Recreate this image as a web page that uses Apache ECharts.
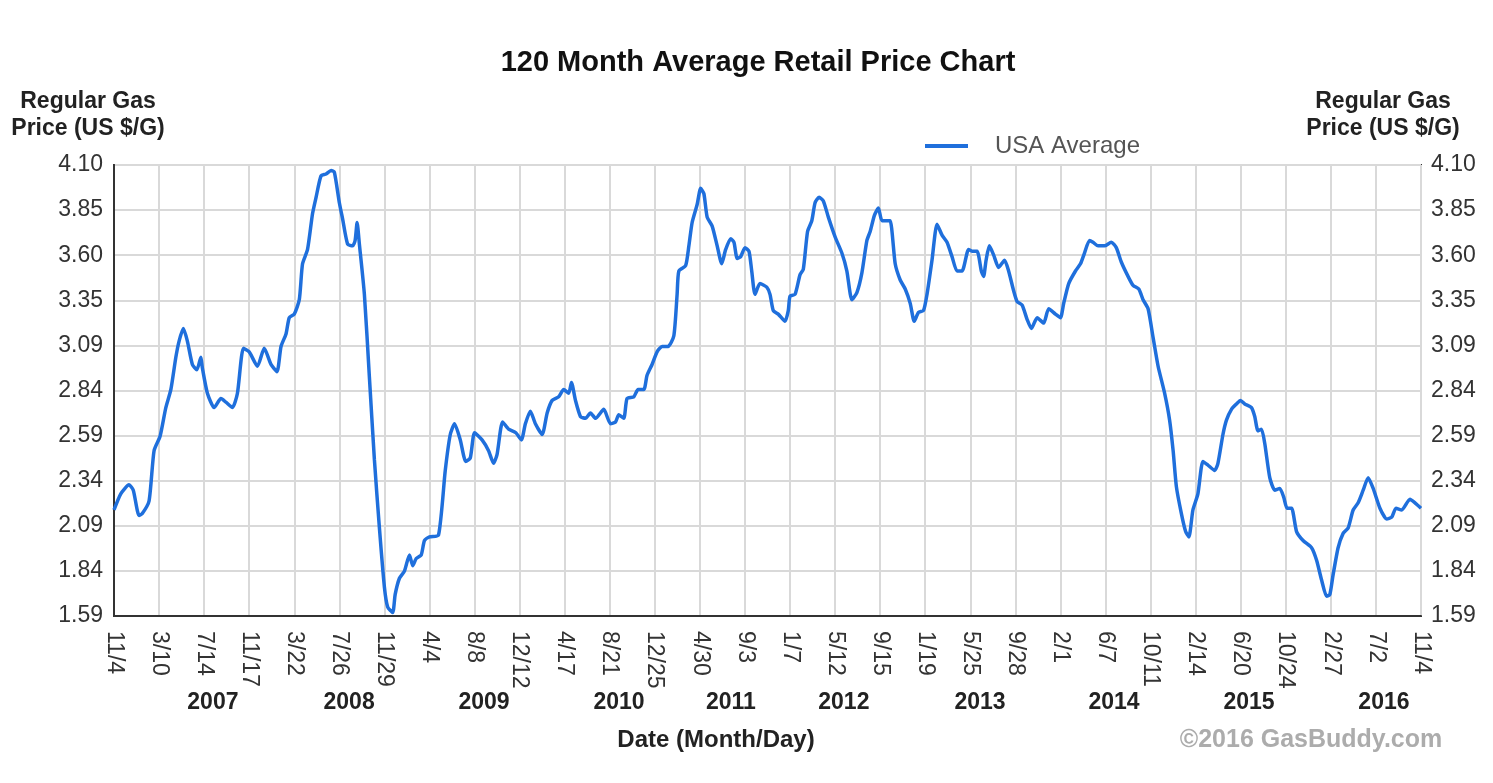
<!DOCTYPE html>
<html>
<head>
<meta charset="utf-8">
<script src="https://cdn.jsdelivr.net/npm/echarts@6/dist/echarts.min.js"></script>
<style>
html,body{margin:0;padding:0;background:#fff;}
#chart{width:1493px;height:783px;}
</style>
</head>
<body>
<div id="chart"></div>
<script>
const FONT = "'Liberation Sans', Arial, sans-serif";

const tickLabels = ['11/4','3/10','7/14','11/17','3/22','7/26','11/29','4/4','8/8','12/12','4/17','8/21','12/25','4/30','9/3','1/7','5/12','9/15','1/19','5/25','9/28','2/1','6/7','10/11','2/14','6/20','10/24','2/27','7/2','11/4'];
const yTickLabels = ['1.59','1.84','2.09','2.34','2.59','2.84','3.09','3.35','3.60','3.85','4.10'];
const yearLabels = ['2007','2008','2009','2010','2011','2012','2013','2014','2015','2016'];
const yearWeeks = [39.5, 93.9, 147.8, 201.7, 246.4, 291.5, 345.9, 399.4, 453.3, 507.2];

// weeks since 11/4/2006
const weeks = [
0,2.7,6.0,7.7,10.0,11.3,14.0,16.0,18.4,20.7,22.7,24.7,26.0,27.7,29.3,31.3,33.1,34.7,35.3,37.3,
40.0,42.7,44.7,47.3,49.3,51.7,54.0,57.3,60.0,62.7,65.1,66.7,68.7,70.0,72.0,74.0,75.3,77.3,79.3,80.7,
82.7,84.7,86.7,88.0,90.0,91.3,93.3,95.3,96.3,97.1,98.0,100.0,102.0,104.0,106.0,108.0,109.3,111.3,112.3,114.0,
116.0,118.0,119.3,120.7,122.7,124.0,126.0,129.6,132.3,134.3,136.0,138.3,140.5,142.3,144.0,147.0,149.6,151.6,153.0,155.2,
157.6,160.5,162.7,164.3,166.3,168.3,171.0,173.0,175.0,177.6,179.6,181.6,182.7,184.3,186.3,188.3,190.3,192.3,195.6,198.3,
200.3,201.6,203.6,204.9,207.6,209.3,211.6,212.9,214.9,216.9,218.9,221.3,223.6,224.9,225.6,228.3,229.6,230.9,232.9,234.3,
235.6,236.9,238.9,240.9,242.7,244.3,246.3,247.6,248.9,250.3,252.0,253.6,254.7,256.0,258.0,260.7,262.0,263.3,265.3,268.0,
269.3,270.0,272.0,274.0,275.3,277.0,278.7,280.0,281.6,283.3,285.3,288.0,290.7,292.7,294.7,296.7,298.7,300.7,302.0,303.7,
305.3,306.7,308.7,310.0,312.0,314.0,316.0,318.0,319.6,321.3,323.3,324.7,326.7,328.7,330.7,332.7,334.7,336.7,338.7,341.3,
342.7,344.7,346.4,347.3,348.3,349.6,351.3,353.3,355.7,357.3,359.3,360.7,362.7,364.7,366.4,368.7,371.3,373.3,376.0,378.0,
379.3,381.3,384.0,386.0,387.6,389.6,391.0,393.0,395.6,398.3,400.3,402.3,405.0,407.0,409.3,411.0,413.0,415.0,417.0,419.6,
421.6,423.0,424.3,426.3,428.0,429.3,430.9,432.9,434.9,436.9,439.6,440.9,442.9,444.3,446.3,448.3,449.9,451.6,454.3,455.6,
456.9,458.3,459.6,461.6,463.6,465.6,467.2,468.5,470.3,472.3,474.9,478.3,480.3,482.3,484.3,485.6,486.9,488.9,490.9,492.9,
494.9,496.9,498.9,500.9,502.9,505.6,508.3,510.3,512.0,514.3,517.6,519.6,522.0
];
const prices = [
2.18,2.27,2.32,2.29,2.15,2.16,2.23,2.51,2.59,2.75,2.85,3.03,3.12,3.19,3.12,2.99,2.96,3.03,2.97,2.83,
2.75,2.80,2.78,2.75,2.83,3.08,3.06,2.98,3.08,2.99,2.95,3.09,3.16,3.25,3.27,3.35,3.55,3.63,3.83,3.92,
4.04,4.05,4.07,4.06,3.89,3.80,3.66,3.65,3.68,3.78,3.66,3.38,2.92,2.46,2.08,1.75,1.64,1.61,1.71,1.80,
1.84,1.93,1.87,1.91,1.93,2.01,2.03,2.04,2.40,2.60,2.66,2.57,2.45,2.47,2.61,2.57,2.51,2.44,2.49,2.67,
2.63,2.61,2.57,2.66,2.73,2.66,2.60,2.72,2.79,2.81,2.85,2.83,2.89,2.79,2.70,2.69,2.72,2.69,2.74,2.66,
2.67,2.71,2.69,2.80,2.81,2.85,2.85,2.93,2.99,3.06,3.09,3.09,3.15,3.38,3.51,3.54,3.65,3.78,3.88,3.97,
3.94,3.81,3.76,3.65,3.55,3.63,3.69,3.67,3.58,3.59,3.64,3.62,3.51,3.38,3.44,3.42,3.38,3.29,3.27,3.23,
3.29,3.37,3.38,3.49,3.52,3.73,3.79,3.89,3.92,3.90,3.81,3.70,3.61,3.51,3.35,3.39,3.50,3.68,3.73,3.82,
3.86,3.79,3.79,3.79,3.55,3.46,3.41,3.33,3.23,3.28,3.29,3.38,3.57,3.77,3.71,3.67,3.59,3.51,3.51,3.63,
3.62,3.62,3.51,3.48,3.57,3.65,3.60,3.53,3.57,3.51,3.40,3.34,3.32,3.24,3.19,3.25,3.22,3.30,3.27,3.25,
3.33,3.44,3.51,3.55,3.61,3.68,3.67,3.65,3.65,3.67,3.64,3.56,3.48,3.43,3.41,3.35,3.30,3.14,2.98,2.83,
2.68,2.51,2.31,2.16,2.06,2.03,2.18,2.27,2.45,2.43,2.40,2.44,2.60,2.68,2.74,2.77,2.79,2.77,2.75,2.70,
2.62,2.63,2.55,2.36,2.29,2.30,2.25,2.19,2.19,2.06,2.01,1.97,1.90,1.79,1.70,1.71,1.82,1.97,2.05,2.08,
2.18,2.22,2.29,2.36,2.30,2.19,2.13,2.14,2.19,2.18,2.24,2.22,2.19
];

const Y_MIN = 1.59, Y_MAX = 4.10, Y_STEP = 0.251;
const X_MAX = 522, X_STEP = 18;

function yearFor(v){
  let best = 0, bd = Infinity;
  yearWeeks.forEach((w,i)=>{ const d = Math.abs(w - v); if (d < bd){ bd = d; best = i; } });
  return yearLabels[best];
}

const chart = echarts.init(document.getElementById('chart'), null, {renderer:'canvas'});
const yLabelFmt = v => yTickLabels[Math.round((v - Y_MIN) / Y_STEP)] || '';

chart.setOption({
  animation: false,
  backgroundColor: '#fff',
  textStyle: { fontFamily: FONT },
  title: [
    { text: '120 Month Average Retail Price Chart', left: 758, top: 48, textAlign: 'center', padding: 0,
      textStyle: { fontSize: 29, fontWeight: 'bold', color: '#111', fontFamily: FONT } },
    { text: 'Regular Gas\nPrice (US $/G)', left: 88, top: 88, textAlign: 'center', padding: 0,
      textStyle: { fontSize: 23, fontWeight: 'bold', color: '#222', lineHeight: 27, fontFamily: FONT } },
    { text: 'Regular Gas\nPrice (US $/G)', left: 1383, top: 88, textAlign: 'center', padding: 0,
      textStyle: { fontSize: 23, fontWeight: 'bold', color: '#222', lineHeight: 27, fontFamily: FONT } },
    { text: 'Date (Month/Day)', left: 716, top: 728, textAlign: 'center', padding: 0,
      textStyle: { fontSize: 24, fontWeight: 'bold', color: '#222', fontFamily: FONT } },
    { text: '\u00a92016 GasBuddy.com', left: 1311, top: 728, textAlign: 'center', padding: 0,
      textStyle: { fontSize: 25, fontWeight: 'bold', color: '#acacac', fontFamily: FONT } }
  ],
  legend: {
    left: 925, top: 134, icon: 'rect', itemWidth: 43, itemHeight: 4, padding: 0,
    textStyle: { fontSize: 24, color: '#555', padding: [0, 0, 0, 22], fontFamily: FONT },
    data: ['USA Average']
  },
  grid: { left: 114, right: 72, top: 165, bottom: 167, show: true, borderColor: '#333', borderWidth: 2, containLabel: false },
  xAxis: [
    {
      type: 'value', min: 0, max: X_MAX, interval: X_STEP, position: 'bottom',
      axisLine: { show: true, onZero: false, lineStyle: { color: '#333', width: 2 } },
      axisTick: { show: false },
      splitLine: { show: true, lineStyle: { color: '#d9d9d9', width: 2 } },
      axisLabel: { rotate: -90, margin: 15, fontSize: 23, color: '#333', fontFamily: FONT,
        showMinLabel: true, showMaxLabel: true,
        formatter: v => tickLabels[Math.round(v / X_STEP)] || '' }
    },
    {
      type: 'value', min: 0, max: X_MAX, position: 'bottom',
      axisLine: { show: false }, axisTick: { show: false }, splitLine: { show: false },
      axisLabel: { customValues: yearWeeks, margin: 75, fontSize: 23, fontWeight: 'bold', color: '#222', fontFamily: FONT,
        formatter: v => yearFor(v) }
    }
  ],
  yAxis: [
    {
      type: 'value', min: Y_MIN, max: Y_MAX, interval: Y_STEP, position: 'left',
      axisLine: { show: true, lineStyle: { color: '#333', width: 2 } },
      axisTick: { show: false },
      splitLine: { show: true, lineStyle: { color: '#d9d9d9', width: 2 } },
      axisLabel: { fontSize: 23, color: '#333', margin: 11, fontFamily: FONT, formatter: yLabelFmt }
    },
    {
      type: 'value', min: Y_MIN, max: Y_MAX, interval: Y_STEP, position: 'right',
      axisLine: { show: true, lineStyle: { color: '#333', width: 2 } },
      axisTick: { show: false },
      splitLine: { show: false },
      axisLabel: { fontSize: 23, color: '#333', margin: 10, fontFamily: FONT, formatter: yLabelFmt }
    }
  ],
  series: [{
    name: 'USA Average', type: 'line', xAxisIndex: 0, yAxisIndex: 0,
    data: weeks.map((w, i) => [w, prices[i]]),
    symbol: 'none', showSymbol: false, smooth: 0.2,
    lineStyle: { color: '#1f6fdc', width: 3.5 },
    itemStyle: { color: '#1f6fdc' }
  }]
});
</script>
</body>
</html>
